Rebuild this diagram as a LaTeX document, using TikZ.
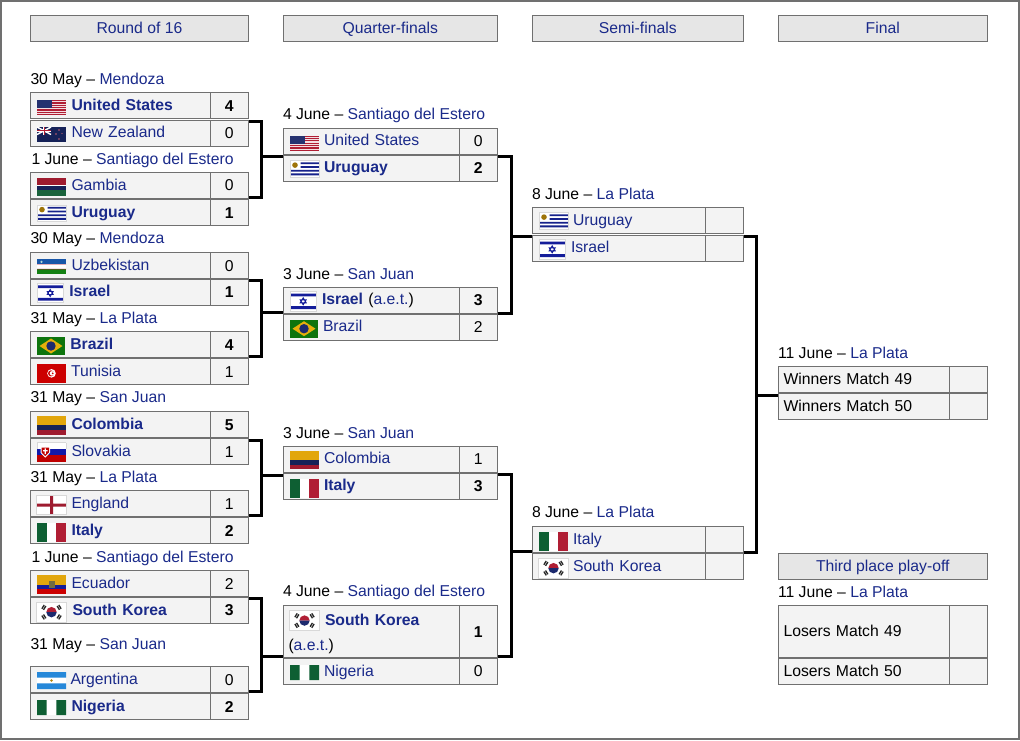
\documentclass[tikz,border=0pt]{standalone}
\usepackage{fontspec}
\setmainfont{Liberation Sans}
\usetikzlibrary{calc}

\newlength{\pxu}
\setlength{\pxu}{0.75pt}
\newcommand{\cellstrut}{\rule[-4.3pt]{0pt}{16pt}}

\definecolor{linkblue}{HTML}{1A2A8A}
\definecolor{cellline}{HTML}{707070}
\definecolor{cellfill}{HTML}{F3F3F3}
\definecolor{headfill}{HTML}{E6E6E6}
\definecolor{flagnavy}{HTML}{1C2A6E}
\definecolor{flagred}{HTML}{B01E34}
\definecolor{flaggreen}{HTML}{0E5F33}
\definecolor{flaggold}{HTML}{E2A60C}
\definecolor{flagedge}{HTML}{D8D8D8}

\tikzset{
  headcell/.style={draw=cellline,fill=headfill,line width=1\pxu,anchor=north west,
    inner sep=0pt,outer sep=0pt,minimum width=#1\pxu,minimum height=25.5\pxu,text=linkblue,
    execute at begin node=\cellstrut},
  namecell/.style={draw=cellline,fill=cellfill,line width=1\pxu,anchor=north west,
    inner sep=0pt,outer sep=0pt,minimum width=#1\pxu,text width=#1\pxu,align=left,
    minimum height=26\pxu,text=linkblue,execute at begin node=\cellstrut},
  scorecell/.style={draw=cellline,fill=cellfill,line width=1\pxu,anchor=north west,
    inner sep=0pt,outer sep=0pt,minimum width=38.5\pxu,minimum height=26\pxu},
  tallcell/.style={minimum height=52\pxu},
  datelabel/.style={anchor=base west,inner sep=0pt,outer sep=0pt,yshift=0.5pt},
  bracket/.style={line width=3\pxu,black},
  flagUSA/.pic={
    \fill[flagred] (0,0) rectangle (29,15.4);
    \foreach \i in {1,3,...,11} \fill[white!85!flagred] (0,\i*1.185) rectangle (29,\i*1.185+1.185);
    \fill[flagnavy!90!gray] (0,0) rectangle (14.5,8.3);
  },
  flagNZL/.pic={
    \fill[flagnavy!80!black] (0,0) rectangle (29,15);
    \draw[white,line width=1.5\pxu] (0,0) -- (14,7.5) (0,7.5) -- (14,0);
    \draw[white,line width=2.2\pxu] (7,0) -- (7,7.5) (0,3.75) -- (14,3.75);
    \draw[flagred,line width=1\pxu] (7,0) -- (7,7.5) (0,3.75) -- (14,3.75);
    \fill[flagred!70!white] (22,3) circle[radius=.8] (19,7) circle[radius=.8] (25,6.5) circle[radius=.7] (22,12) circle[radius=.9];
  },
  flagGMB/.pic={
    \fill[white] (0,0) rectangle (29,18);
    \fill[flagred!90!black] (0,0) rectangle (29,7);
    \fill[flagnavy!80!black] (0,7.7) rectangle (29,11.7);
    \fill[flaggreen!90!gray] (0,12.3) rectangle (29,18);
  },
  flagURY/.pic={
    \fill[white] (0,0) rectangle (29,16.7);
    \fill[flagnavy!80!blue] (10.5,1.85) rectangle (29,3.7) (10.5,5.55) rectangle (29,7.4);
    \fill[flagnavy!80!blue] (0,9.25) rectangle (29,11.1) (0,12.95) rectangle (29,14.8);
    \fill[flaggold!70!black] (5,4.6) circle[radius=2.8];
    \draw[flagedge,line width=.5\pxu] (0,0) rectangle (29,16.7);
  },
  flagUZB/.pic={
    \fill[white] (0,0) rectangle (29,15);
    \fill[teal!60!blue!80!gray] (0,0) rectangle (29,5);
    \fill[green!50!black!85!gray] (0,10) rectangle (29,15);
    \fill[flagred] (0,5) rectangle (29,5.4) (0,9.6) rectangle (29,10);
    \fill[white!70!teal] (4.5,2.5) circle[radius=1.2];
  },
  flagISR/.pic={
    \fill[white] (0,0) rectangle (26.5,19.4);
    \fill[flagnavy!70!blue] (0,2) rectangle (26.5,4.8) (0,14.6) rectangle (26.5,17.4);
    \draw[flagnavy!70!blue,line width=.9\pxu] (13.2,6.2) -- (16.2,11.2) -- (10.2,11.2) -- cycle (13.2,13.2) -- (16.2,8.2) -- (10.2,8.2) -- cycle;
    \draw[flagedge,line width=.5\pxu] (0,0) rectangle (26.5,19.4);
  },
  flagBRA/.pic={
    \fill[green!45!black!90!gray] (0,0) rectangle (28,18);
    \fill[flaggold!90!yellow] (2.5,9) -- (14,1.5) -- (25.5,9) -- (14,16.5) -- cycle;
    \fill[flagnavy] (14,9) circle[radius=4.7];
  },
  flagTUN/.pic={
    \fill[red!80!black] (0,0) rectangle (29,18.7);
    \fill[white] (14.5,9.35) circle[radius=4.3];
    \fill[red!80!black] (14,9.35) circle[radius=3];
    \fill[white] (15,9.35) circle[radius=2.3];
    \fill[red!80!black] (15.7,9.35) circle[radius=1];
  },
  flagCOL/.pic={
    \fill[flaggold] (0,0) rectangle (29,9.4);
    \fill[flagnavy!80!black] (0,9.4) rectangle (29,14);
    \fill[flagred!90!black] (0,14) rectangle (29,18.7);
  },
  flagSVK/.pic={
    \fill[white] (0,0) rectangle (29,6.3);
    \fill[flagnavy!60!blue] (0,6.3) rectangle (29,12.6);
    \fill[red!75!black] (0,12.6) rectangle (29,19);
    \draw[flagedge,line width=.5\pxu] (0,0) -- (29,0) (0,0) -- (0,6.3) (29,0) -- (29,6.3);
    \fill[white] (3.5,4) -- (13,4) -- (13,10) -- (8.25,15) -- (3.5,10) -- cycle;
    \fill[red!75!black] (4.5,5) -- (12,5) -- (12,9.6) -- (8.25,13.5) -- (4.5,9.6) -- cycle;
    \fill[white] (7.6,5.7) rectangle (8.9,11.5) (6,7.4) rectangle (10.5,8.7);
  },
  flagENG/.pic={
    \fill[white] (0,0) rectangle (30,19.4);
    \fill[flagred!90!black] (13.5,0) rectangle (16.5,19.4) (0,8.2) rectangle (30,11.2);
    \draw[flagedge,line width=.5\pxu] (0,0) rectangle (30,19.4);
  },
  flagITA/.pic={
    \fill[white] (0,0) rectangle (29,19.3);
    \fill[flaggreen] (0,0) rectangle (9.7,19.3);
    \fill[flagred] (19.3,0) rectangle (29,19.3);
  },
  flagECU/.pic={
    \fill[flaggold] (0,0) rectangle (29,9.5);
    \fill[flagnavy!70!blue] (0,9.5) rectangle (29,14.2);
    \fill[red!80!black] (0,14.2) rectangle (29,19);
    \fill[olive!60!black!70!gray] (11.5,5.5) rectangle (17.5,13);
  },
  flagKOR/.pic={
    \fill[white] (0,0) rectangle (30,19.7);
    \draw[flagedge,line width=.5\pxu] (0,0) rectangle (30,19.7);
    \fill[flagred] (9.8,9.85) arc[start angle=180,end angle=360,radius=5.2] -- cycle;
    \fill[flagnavy] (9.8,9.85) arc[start angle=180,end angle=0,radius=5.2] -- cycle;
    \foreach \a in {32,148,212,328}
      \draw[black!85,line width=1.3\pxu,rotate around={\a:(15,9.85)}] (23,7.6) -- (23,12.1) (25,7.6) -- (25,12.1);
  },
  flagARG/.pic={
    \fill[white] (0,0) rectangle (29,17);
    \fill[blue!45!cyan!70!gray] (0,0) rectangle (29,5.7) (0,11.3) rectangle (29,17);
    \fill[flaggold!80!black] (14.5,8.5) circle[radius=1.4];
  },
  flagNGA/.pic={
    \fill[white] (0,0) rectangle (29,15);
    \fill[flaggreen] (0,0) rectangle (9.7,15) (19.3,0) rectangle (29,15);
  }
}

\begin{document}
\begin{tikzpicture}[
    x=0.75pt,
    y=-0.75pt,
    font=\fontsize{11.8}{16}\selectfont
]
\useasboundingbox (0,0) rectangle (1020,740);
\draw[cellline,line width=1.6\pxu] (0.8,0.8) rectangle (1019.2,739.2);

% -- Round headers --
\node[headcell=218] (headRound) at (30.5,15.5) {Round of 16};
\node[headcell=214.5] (headQuarter) at (283,15.5) {Quarter-finals};
\node[headcell=211.5] (headSemi) at (532,15.5) {Semi-finals};
\node[headcell=209.5] (headFinal) at (778,15.5) {Final};

% -- Round of 16 --
\node[datelabel] (dateUSA) at (30.5,85) {30 May -- \textcolor{linkblue}{Mendoza}};
\node[namecell=179.5] (r16USA) at (30.5,92.8) {\hspace*{41\pxu}\textbf{United States}};
\node[scorecell] (r16USAScore) at (r16USA.north east) {\textbf{4}};
\node[namecell=179.5] (r16NZL) at (30.5,120) {\hspace*{41\pxu}New Zealand};
\node[scorecell] (r16NZLScore) at (r16NZL.north east) {0};
\pic at (37,100) {flagUSA};
\pic at (37,127) {flagNZL};

\node[datelabel] (dateGMB) at (31.5,165) {1 June -- \textcolor{linkblue}{Santiago del Estero}};
\node[namecell=179.5] (r16GMB) at (30.5,172.5) {\hspace*{41\pxu}Gambia};
\node[scorecell] (r16GMBScore) at (r16GMB.north east) {0};
\node[namecell=179.5] (r16URY) at (30.5,199.7) {\hspace*{41\pxu}\textbf{Uruguay}};
\node[scorecell] (r16URYScore) at (r16URY.north east) {\textbf{1}};
\pic at (37,178) {flagGMB};
\pic at (37,205) {flagURY};

\node[datelabel] (dateUZB) at (30.5,243.7) {30 May -- \textcolor{linkblue}{Mendoza}};
\node[namecell=179.5] (r16UZB) at (30.5,252.8) {\hspace*{41\pxu}Uzbekistan};
\node[scorecell] (r16UZBScore) at (r16UZB.north east) {0};
\node[namecell=179.5] (r16ISR) at (30.5,279) {\hspace*{38.8\pxu}\textbf{Israel}};
\node[scorecell] (r16ISRScore) at (r16ISR.north east) {\textbf{1}};
\pic at (37,259.3) {flagUZB};
\pic at (37,283.3) {flagISR};

\node[datelabel] (dateBRA) at (30.5,324) {31 May -- \textcolor{linkblue}{La Plata}};
\node[namecell=179.5] (r16BRA) at (30.5,331.8) {\hspace*{39.8\pxu}\textbf{Brazil}};
\node[scorecell] (r16BRAScore) at (r16BRA.north east) {\textbf{4}};
\node[namecell=179.5] (r16TUN) at (30.5,358.7) {\hspace*{40.5\pxu}Tunisia};
\node[scorecell] (r16TUNScore) at (r16TUN.north east) {1};
\pic at (37,337) {flagBRA};
\pic at (37,364) {flagTUN};

\node[datelabel] (dateCOL) at (30.5,402.7) {31 May -- \textcolor{linkblue}{San Juan}};
\node[namecell=179.5] (r16COL) at (30.5,411.8) {\hspace*{41\pxu}\textbf{Colombia}};
\node[scorecell] (r16COLScore) at (r16COL.north east) {\textbf{5}};
\node[namecell=179.5] (r16SVK) at (30.5,438.7) {\hspace*{41\pxu}Slovakia};
\node[scorecell] (r16SVKScore) at (r16SVK.north east) {1};
\pic at (37,416) {flagCOL};
\pic at (37,442.7) {flagSVK};

\node[datelabel] (dateENG) at (30.5,483) {31 May -- \textcolor{linkblue}{La Plata}};
\node[namecell=179.5] (r16ENG) at (30.5,490.8) {\hspace*{41\pxu}England};
\node[scorecell] (r16ENGScore) at (r16ENG.north east) {1};
\node[namecell=179.5] (r16ITA) at (30.5,517.7) {\hspace*{41\pxu}\textbf{Italy}};
\node[scorecell] (r16ITAScore) at (r16ITA.north east) {\textbf{2}};
\pic at (36.5,495.3) {flagENG};
\pic at (37,522.7) {flagITA};

\node[datelabel] (dateECU) at (31.5,562.7) {1 June -- \textcolor{linkblue}{Santiago del Estero}};
\node[namecell=179.5] (r16ECU) at (30.5,570.5) {\hspace*{41\pxu}Ecuador};
\node[scorecell] (r16ECUScore) at (r16ECU.north east) {2};
\node[namecell=179.5] (r16KOR) at (30.5,597.5) {\hspace*{42\pxu}\textbf{South Korea}};
\node[scorecell] (r16KORScore) at (r16KOR.north east) {\textbf{3}};
\pic at (37,575) {flagECU};
\pic at (36.5,602.3) {flagKOR};

\node[datelabel] (dateARG) at (30.5,650) {31 May -- \textcolor{linkblue}{San Juan}};
\node[namecell=179.5] (r16ARG) at (30.5,666.8) {\hspace*{40\pxu}Argentina};
\node[scorecell] (r16ARGScore) at (r16ARG.north east) {0};
\node[namecell=179.5] (r16NGA) at (30.5,693.7) {\hspace*{41\pxu}\textbf{Nigeria}};
\node[scorecell] (r16NGAScore) at (r16NGA.north east) {\textbf{2}};
\pic at (37,672) {flagARG};
\pic at (37,700) {flagNGA};

% -- Quarter-finals --
\node[datelabel] (dateQfA) at (283,120) {4 June -- \textcolor{linkblue}{Santiago del Estero}};
\node[namecell=176] (qfUSA) at (283,128) {\hspace*{41\pxu}United States};
\node[scorecell] (qfUSAScore) at (qfUSA.north east) {0};
\node[namecell=176] (qfURY) at (283,155) {\hspace*{41\pxu}\textbf{Uruguay}};
\node[scorecell] (qfURYScore) at (qfURY.north east) {\textbf{2}};
\pic at (290,135.5) {flagUSA};
\pic at (290,160.5) {flagURY};

\node[datelabel] (dateQfB) at (283,280) {3 June -- \textcolor{linkblue}{San Juan}};
\node[namecell=176] (qfISR) at (283,287) {\hspace*{39\pxu}\textbf{Israel} \textcolor{black}{(}a.e.t.\textcolor{black}{)}};
\node[scorecell] (qfISRScore) at (qfISR.north east) {\textbf{3}};
\node[namecell=176] (qfBRA) at (283,314) {\hspace*{40\pxu}Brazil};
\node[scorecell] (qfBRAScore) at (qfBRA.north east) {2};
\pic at (290,291.6) {flagISR};
\pic at (290,319.7) {flagBRA};

\node[datelabel] (dateQfC) at (283,439) {3 June -- \textcolor{linkblue}{San Juan}};
\node[namecell=176] (qfCOL) at (283,446) {\hspace*{41\pxu}Colombia};
\node[scorecell] (qfCOLScore) at (qfCOL.north east) {1};
\node[namecell=176] (qfITA) at (283,473) {\hspace*{41\pxu}\textbf{Italy}};
\node[scorecell] (qfITAScore) at (qfITA.north east) {\textbf{3}};
\pic at (290,450.7) {flagCOL};
\pic at (290,478.7) {flagITA};

\node[datelabel] (dateQfD) at (283,597.5) {4 June -- \textcolor{linkblue}{Santiago del Estero}};
\node[namecell=176,tallcell] (qfKOR) at (283,605.8) {\hspace*{42\pxu}\textbf{South Korea}\\[2.5pt]\hspace*{5.5\pxu}\textcolor{black}{(}a.e.t.\textcolor{black}{)}};
\node[scorecell,tallcell] (qfKORScore) at (qfKOR.north east) {\textbf{1}};
\node[namecell=176] (qfNGA) at (283,658.3) {\hspace*{41\pxu}Nigeria};
\node[scorecell] (qfNGAScore) at (qfNGA.north east) {0};
\pic at (289.5,610.7) {flagKOR};
\pic at (290,665) {flagNGA};

% -- Semi-finals --
\node[datelabel] (dateSfA) at (532,200) {8 June -- \textcolor{linkblue}{La Plata}};
\node[namecell=173] (sfURY) at (532,207.5) {\hspace*{41\pxu}Uruguay};
\node[scorecell] (sfURYScore) at (sfURY.north east) {};
\node[namecell=173] (sfISR) at (532,235) {\hspace*{39\pxu}Israel};
\node[scorecell] (sfISRScore) at (sfISR.north east) {};
\pic at (539,212.5) {flagURY};
\pic at (539,239.6) {flagISR};

\node[datelabel] (dateSfB) at (532,518) {8 June -- \textcolor{linkblue}{La Plata}};
\node[namecell=173] (sfITA) at (532,526.5) {\hspace*{41\pxu}Italy};
\node[scorecell] (sfITAScore) at (sfITA.north east) {};
\node[namecell=173] (sfKOR) at (532,553.5) {\hspace*{41\pxu}South Korea};
\node[scorecell] (sfKORScore) at (sfKOR.north east) {};
\pic at (539,531.7) {flagITA};
\pic at (538.5,558.3) {flagKOR};

% -- Final and third place --
\node[datelabel] (dateFinal) at (778,359) {11 June -- \textcolor{linkblue}{La Plata}};
\node[namecell=171,text=black] (finalA) at (778,366.5) {\hspace*{5.5\pxu}Winners Match 49};
\node[scorecell] (finalAScore) at (finalA.north east) {};
\node[namecell=171,text=black] (finalB) at (778,393.7) {\hspace*{5.5\pxu}Winners Match 50};
\node[scorecell] (finalBScore) at (finalB.north east) {};

\node[headcell=209.5] (headThird) at (778,553.5) {Third place play-off};
\node[datelabel] (dateThird) at (778,598) {11 June -- \textcolor{linkblue}{La Plata}};
\node[namecell=171,tallcell,text=black] (thirdA) at (778,605.5) {\hspace*{5.5\pxu}Losers Match 49};
\node[scorecell,tallcell] (thirdAScore) at (thirdA.north east) {};
\node[namecell=171,text=black] (thirdB) at (778,658.3) {\hspace*{5.5\pxu}Losers Match 50};
\node[scorecell] (thirdBScore) at (thirdB.north east) {};

% -- Brackets: Round of 16 to Quarter-finals --
\coordinate (joinA) at (261.3,156);
\coordinate (joinB) at (261.3,312.3);
\coordinate (joinC) at (261.3,475);
\coordinate (joinD) at (261.3,656.3);
\draw[bracket] ([yshift=-1pt]r16NZLScore.north east) -| (joinA) |- ([yshift=1pt]r16GMBScore.south east);
\draw[bracket] ([yshift=-1pt]r16ISRScore.north east) -| (joinB) |- ([yshift=1pt]r16BRAScore.south east);
\draw[bracket] ([yshift=-1pt]r16SVKScore.north east) -| (joinC) |- ([yshift=1pt]r16ENGScore.south east);
\draw[bracket] ([yshift=-1pt]r16KORScore.north east) -| (joinD) |- ([yshift=1pt]r16ARGScore.south east);
\draw[bracket] (joinA) -- (joinA -| qfURY.west);
\draw[bracket] (joinB) -- (joinB -| qfBRA.west);
\draw[bracket] (joinC) -- (joinC -| qfITA.west);
\draw[bracket] (joinD) -- (joinD -| qfKOR.west);

% -- Brackets: Quarter-finals to Semi-finals --
\coordinate (joinE) at (511.3,236);
\coordinate (joinF) at (511.3,551);
\draw[bracket] ([yshift=-1pt]qfURYScore.north east) -| (joinE) |- (qfISRScore.south east);
\draw[bracket] ([yshift=-1pt]qfITAScore.north east) -| (joinF) |- ([yshift=1pt]qfKORScore.south east);
\draw[bracket] (joinE) -- (joinE -| sfISR.west);
\draw[bracket] (joinF) -- (joinF -| sfKOR.west);

% -- Brackets: Semi-finals to Final --
\coordinate (joinG) at (756.8,395);
\draw[bracket] ([yshift=-1pt]sfISRScore.north east) -| (joinG) |- (sfITAScore.south east);
\draw[bracket] (joinG) -- (joinG -| finalB.west);

\end{tikzpicture}
\end{document}
